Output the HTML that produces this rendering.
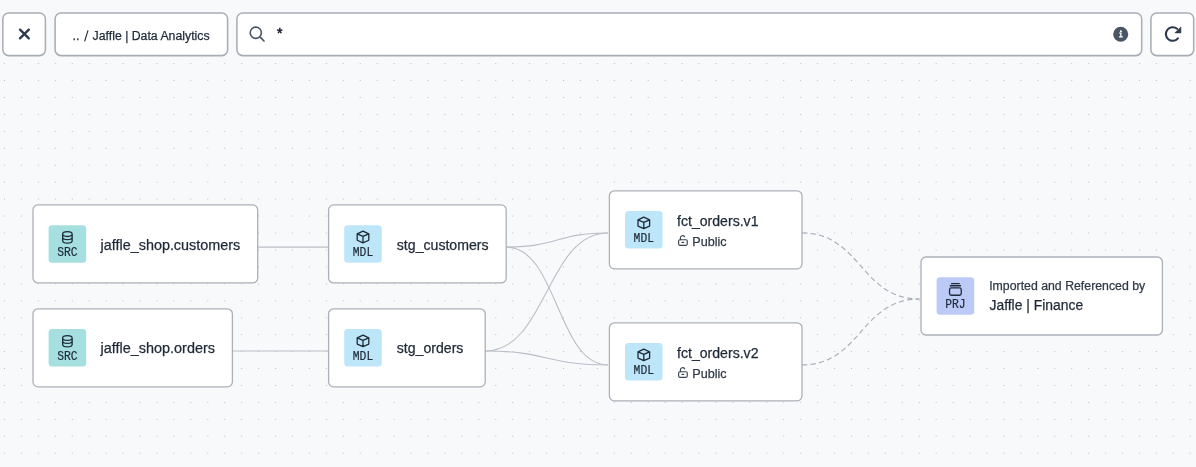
<!DOCTYPE html>
<html><head><meta charset="utf-8"><style>
html,body{margin:0;padding:0;background:#f8f9fb;width:1196px;height:467px;overflow:hidden}
svg{display:block;will-change:transform}
text{font-family:"Liberation Sans",sans-serif}
.mono{font-family:"Liberation Mono",monospace}
</style></head><body>
<svg width="1196" height="467" viewBox="0 0 1196 467">
<defs>
<pattern id="dots" patternUnits="userSpaceOnUse" x="-3.97" y="55.13" width="16.94" height="16.94">
<circle cx="8.47" cy="8.47" r="0.6" fill="#afb5bf"/>
</pattern>
</defs>
<rect width="1196" height="467" fill="#f8f9fb"/>
<rect y="57" width="1196" height="410" fill="url(#dots)"/>

<path d="M250,247.1 H335" stroke="#b9bec7" stroke-width="1.1" fill="none"/>
<path d="M225,350.95 H335" stroke="#b9bec7" stroke-width="1.1" fill="none"/>
<path d="M506.5,247.1 C557.25,247.1 557.25,232.95 608.0,232.95" stroke="#b9bec7" stroke-width="1.1" fill="none"/>
<path d="M506.5,247.1 C557.25,247.1 557.25,364.95 608.0,364.95" stroke="#b9bec7" stroke-width="1.1" fill="none"/>
<path d="M485.2,350.95 C546.6,350.95 546.6,232.95 608.0,232.95" stroke="#b9bec7" stroke-width="1.1" fill="none"/>
<path d="M485.2,350.95 C546.6,350.95 546.6,364.95 608.0,364.95" stroke="#b9bec7" stroke-width="1.1" fill="none"/>
<path d="M802.0,232.95 C860.75,232.95 860.75,299.0 919.5,299.0" stroke="#aab1bc" stroke-width="1.2" fill="none" stroke-dasharray="5.3 3.2"/>
<path d="M802.0,364.95 C860.75,364.95 860.75,299.0 919.5,299.0" stroke="#aab1bc" stroke-width="1.2" fill="none" stroke-dasharray="5.3 3.2"/>
<rect x="2.85" y="13.0" width="42.55" height="42.6" rx="5.8" fill="#fff" stroke="#a9adb5" stroke-width="1.55"/>
<rect x="55.1" y="13.0" width="172.5" height="42.6" rx="5.8" fill="#fff" stroke="#a9adb5" stroke-width="1.55"/>
<rect x="236.9" y="13.0" width="904.8" height="42.6" rx="5.8" fill="#fff" stroke="#a9adb5" stroke-width="1.55"/>
<rect x="1150.9" y="13.0" width="42.8" height="42.6" rx="5.8" fill="#fff" stroke="#a9adb5" stroke-width="1.55"/>
<path d="M20,29.6 L28.8,38.4 M28.8,29.6 L20,38.4" stroke="#2d3a4d" stroke-width="2.3" stroke-linecap="round"/>
<text x="72.6" y="39.9" font-size="12.5" fill="#1f2937" stroke="#1f2937" stroke-width="0.25">..</text>
<path d="M88.0,30.4 L84.6,41.4" stroke="#1f2937" stroke-width="1.15" stroke-linecap="butt"/>
<text x="92.6" y="39.9" font-size="12.5" fill="#1f2937" stroke="#1f2937" stroke-width="0.25" textLength="117" lengthAdjust="spacingAndGlyphs">Jaffle | Data Analytics</text>
<circle cx="255.8" cy="32.75" r="5.6" fill="none" stroke="#4a5565" stroke-width="1.6"/><path d="M260.2,37.2 L264,41" stroke="#4a5565" stroke-width="1.7" stroke-linecap="round"/>
<text x="277.1" y="37.6" font-size="14" fill="#111827" stroke="#111827" stroke-width="0.5">*</text>
<circle cx="1120.7" cy="34.2" r="7.5" fill="#4a5565"/><circle cx="1120.9" cy="31.25" r="1.05" fill="#fff"/><path d="M1119.1,32.6 H1121.5 V36.2 H1122.8 V37.4 H1119.0 V36.2 H1120.2 V33.6 H1119.1 Z" fill="#fff"/>
<path d="M1177.1,28.8 A6.8,6.8 0 1 0 1177.9,38.4" fill="none" stroke="#2d3a4d" stroke-width="2.1" stroke-linecap="round"/><path d="M1174.9,32.9 L1180.9,32.9 L1180.9,26.9 Z" fill="#2d3a4d" stroke="#2d3a4d" stroke-width="0.6" stroke-linejoin="round"/>
<rect x="33.0" y="204.95" width="224.7" height="78.0" rx="5" fill="#fff" stroke="#acb0b8" stroke-width="1.3"/>
<rect x="48.60" y="225.20" width="37.6" height="37.5" rx="3.5" fill="#a6dfe0"/>
<path d="M62.65,234.10 A4.75,2.4 0 1 0 72.15,234.10 A4.75,2.4 0 1 0 62.65,234.10 Z M62.65,234.10 V240.70 A4.75,2.4 0 0 0 72.15,240.70 V234.10 M62.65,237.20 A4.75,2.4 0 0 0 72.15,237.20" fill="none" stroke="#1e2a38" stroke-width="1.3" stroke-linejoin="round"/>
<text class="mono" x="67.40" y="256.30" font-size="12.2" fill="#1e2a38" stroke="#1e2a38" stroke-width="0.2" text-anchor="middle" textLength="20.4" lengthAdjust="spacingAndGlyphs">SRC</text>
<rect x="328.6" y="204.95" width="177.6" height="78.0" rx="5" fill="#fff" stroke="#acb0b8" stroke-width="1.3"/>
<rect x="344.20" y="225.20" width="37.6" height="37.5" rx="3.5" fill="#bde6f8"/>
<path d="M363.00,231.20 L368.80,233.95 L368.80,240.25 L363.00,242.80 L357.20,240.25 L357.20,233.95 Z M357.20,233.95 L363.00,236.45 L368.80,233.95 M363.00,236.45 V242.80" fill="none" stroke="#1e2a38" stroke-width="1.3" stroke-linejoin="round" stroke-linecap="round"/>
<text class="mono" x="363.00" y="256.30" font-size="12.2" fill="#1e2a38" stroke="#1e2a38" stroke-width="0.2" text-anchor="middle" textLength="20.4" lengthAdjust="spacingAndGlyphs">MDL</text>
<rect x="33.0" y="308.8" width="199.4" height="78.0" rx="5" fill="#fff" stroke="#acb0b8" stroke-width="1.3"/>
<rect x="48.60" y="329.05" width="37.6" height="37.5" rx="3.5" fill="#a6dfe0"/>
<path d="M62.65,337.95 A4.75,2.4 0 1 0 72.15,337.95 A4.75,2.4 0 1 0 62.65,337.95 Z M62.65,337.95 V344.55 A4.75,2.4 0 0 0 72.15,344.55 V337.95 M62.65,341.05 A4.75,2.4 0 0 0 72.15,341.05" fill="none" stroke="#1e2a38" stroke-width="1.3" stroke-linejoin="round"/>
<text class="mono" x="67.40" y="360.15" font-size="12.2" fill="#1e2a38" stroke="#1e2a38" stroke-width="0.2" text-anchor="middle" textLength="20.4" lengthAdjust="spacingAndGlyphs">SRC</text>
<rect x="328.6" y="308.8" width="156.6" height="78.0" rx="5" fill="#fff" stroke="#acb0b8" stroke-width="1.3"/>
<rect x="344.20" y="329.05" width="37.6" height="37.5" rx="3.5" fill="#bde6f8"/>
<path d="M363.00,335.05 L368.80,337.80 L368.80,344.10 L363.00,346.65 L357.20,344.10 L357.20,337.80 Z M357.20,337.80 L363.00,340.30 L368.80,337.80 M363.00,340.30 V346.65" fill="none" stroke="#1e2a38" stroke-width="1.3" stroke-linejoin="round" stroke-linecap="round"/>
<text class="mono" x="363.00" y="360.15" font-size="12.2" fill="#1e2a38" stroke="#1e2a38" stroke-width="0.2" text-anchor="middle" textLength="20.4" lengthAdjust="spacingAndGlyphs">MDL</text>
<rect x="609.4" y="190.8" width="192.6" height="78.0" rx="5" fill="#fff" stroke="#acb0b8" stroke-width="1.3"/>
<rect x="625.00" y="211.05" width="37.6" height="37.5" rx="3.5" fill="#bde6f8"/>
<path d="M643.80,217.05 L649.60,219.80 L649.60,226.10 L643.80,228.65 L638.00,226.10 L638.00,219.80 Z M638.00,219.80 L643.80,222.30 L649.60,219.80 M643.80,222.30 V228.65" fill="none" stroke="#1e2a38" stroke-width="1.3" stroke-linejoin="round" stroke-linecap="round"/>
<text class="mono" x="643.80" y="242.15" font-size="12.2" fill="#1e2a38" stroke="#1e2a38" stroke-width="0.2" text-anchor="middle" textLength="20.4" lengthAdjust="spacingAndGlyphs">MDL</text>
<rect x="609.4" y="322.8" width="192.6" height="78.0" rx="5" fill="#fff" stroke="#acb0b8" stroke-width="1.3"/>
<rect x="625.00" y="343.05" width="37.6" height="37.5" rx="3.5" fill="#bde6f8"/>
<path d="M643.80,349.05 L649.60,351.80 L649.60,358.10 L643.80,360.65 L638.00,358.10 L638.00,351.80 Z M638.00,351.80 L643.80,354.30 L649.60,351.80 M643.80,354.30 V360.65" fill="none" stroke="#1e2a38" stroke-width="1.3" stroke-linejoin="round" stroke-linecap="round"/>
<text class="mono" x="643.80" y="374.15" font-size="12.2" fill="#1e2a38" stroke="#1e2a38" stroke-width="0.2" text-anchor="middle" textLength="20.4" lengthAdjust="spacingAndGlyphs">MDL</text>
<rect x="921.0" y="257.0" width="241.4" height="78.0" rx="5" fill="#fff" stroke="#acb0b8" stroke-width="1.3"/>
<rect x="936.60" y="277.25" width="37.6" height="37.5" rx="3.5" fill="#bccaf8"/>
<path d="M951.55,283.65 H959.25 M950.30,285.75 H960.50" stroke="#1e2a38" stroke-width="1.3" stroke-linecap="round"/><rect x="949.55" y="287.95" width="11.7" height="7.3" rx="1.8" fill="none" stroke="#1e2a38" stroke-width="1.3"/>
<text class="mono" x="955.40" y="308.35" font-size="12.2" fill="#1e2a38" stroke="#1e2a38" stroke-width="0.2" text-anchor="middle" textLength="20.4" lengthAdjust="spacingAndGlyphs">PRJ</text>
<text x="100.6" y="249.6" font-size="14" fill="#1f2937" stroke="#1f2937" stroke-width="0.25" textLength="139.6" lengthAdjust="spacingAndGlyphs">jaffle_shop.customers</text>
<text x="396.8" y="249.6" font-size="14" fill="#1f2937" stroke="#1f2937" stroke-width="0.25" textLength="91.8" lengthAdjust="spacingAndGlyphs">stg_customers</text>
<text x="100.6" y="353.2" font-size="14" fill="#1f2937" stroke="#1f2937" stroke-width="0.25" textLength="114.4" lengthAdjust="spacingAndGlyphs">jaffle_shop.orders</text>
<text x="396.8" y="353.2" font-size="14" fill="#1f2937" stroke="#1f2937" stroke-width="0.25" textLength="66.6" lengthAdjust="spacingAndGlyphs">stg_orders</text>
<text x="677.0" y="225.9" font-size="14" fill="#1f2937" stroke="#1f2937" stroke-width="0.25" textLength="81.5" lengthAdjust="spacingAndGlyphs">fct_orders.v1</text>
<text x="677.0" y="357.9" font-size="14" fill="#1f2937" stroke="#1f2937" stroke-width="0.25" textLength="81.5" lengthAdjust="spacingAndGlyphs">fct_orders.v2</text>
<text x="692.3" y="245.7" font-size="13" fill="#2f3946" stroke="#2f3946" stroke-width="0.25" textLength="34.4" lengthAdjust="spacingAndGlyphs">Public</text>
<text x="692.3" y="377.7" font-size="13" fill="#2f3946" stroke="#2f3946" stroke-width="0.25" textLength="34.4" lengthAdjust="spacingAndGlyphs">Public</text>
<text x="989.2" y="289.5" font-size="12.5" fill="#2f3946" stroke="#2f3946" stroke-width="0.25" textLength="156.0" lengthAdjust="spacingAndGlyphs">Imported and Referenced by</text>
<text x="989.5" y="310.4" font-size="14" fill="#1f2937" stroke="#1f2937" stroke-width="0.25" textLength="93.6" lengthAdjust="spacingAndGlyphs">Jaffle | Finance</text>
<rect x="678.65" y="239.70" width="8.6" height="5.6" rx="1.2" fill="none" stroke="#3a4452" stroke-width="1.15"/><path d="M680.40,239.70 V237.80 A2.3,2.3 0 0 1 684.65,236.80" fill="none" stroke="#3a4452" stroke-width="1.15" stroke-linecap="round"/><path d="M682.05,242.45 H683.65" stroke="#3a4452" stroke-width="1.2" stroke-linecap="round"/>
<rect x="678.65" y="371.70" width="8.6" height="5.6" rx="1.2" fill="none" stroke="#3a4452" stroke-width="1.15"/><path d="M680.40,371.70 V369.80 A2.3,2.3 0 0 1 684.65,368.80" fill="none" stroke="#3a4452" stroke-width="1.15" stroke-linecap="round"/><path d="M682.05,374.45 H683.65" stroke="#3a4452" stroke-width="1.2" stroke-linecap="round"/>
</svg></body></html>
